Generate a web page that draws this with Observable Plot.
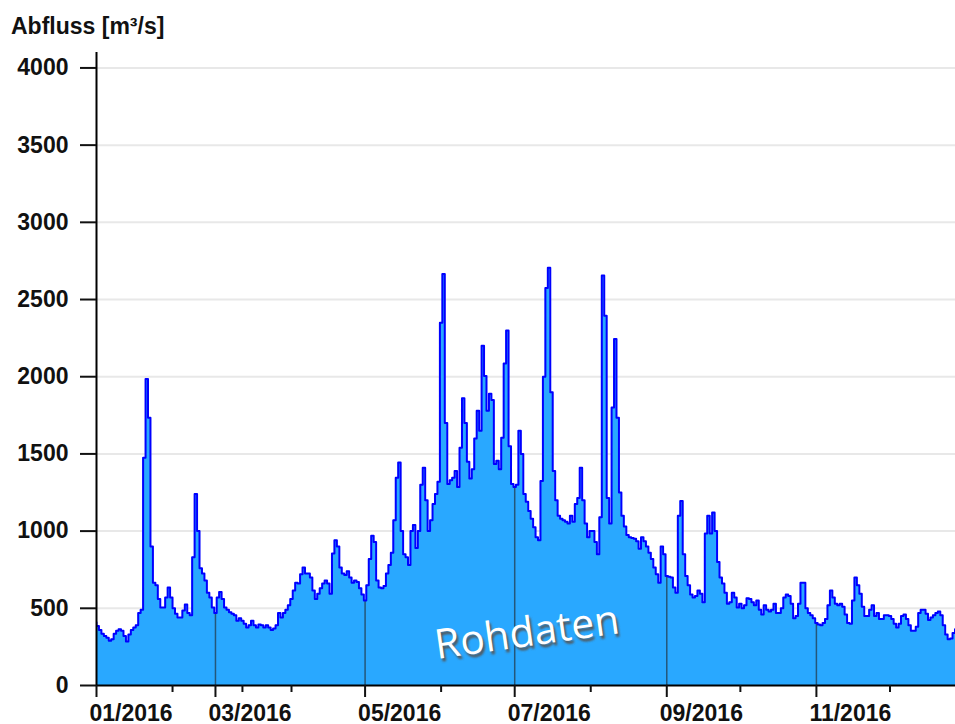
<!DOCTYPE html>
<html><head><meta charset="utf-8">
<script src="https://cdn.jsdelivr.net/npm/d3@7"></script>
<script src="https://cdn.jsdelivr.net/npm/@observablehq/plot@0.6"></script>
<style>
body{margin:0;background:#fff;font-family:"Liberation Sans",Arial,sans-serif;}
#title{height:44px;box-sizing:border-box;padding:15px 0 0 11px;font-size:23px;line-height:23px;font-weight:bold;color:#111;}
</style></head><body>
<div id="title">Abfluss [m³/s]</div>
<div id="chart"></div>
<script>
// daily discharge values starting at seriesStart
const seriesStart = "2016-01-12";
const abfluss = [
410,385,360,335,320,310,290,300,335,355,
365,355,320,285,330,360,375,390,470,490,
1475,1985,1735,900,665,650,560,505,505,570,
635,570,500,465,440,440,485,525,470,455,
830,1240,1000,760,725,680,600,570,505,470,
570,605,560,505,490,475,465,455,420,435,
420,400,375,390,420,390,375,395,390,375,
390,375,360,370,390,470,440,470,490,520,
560,615,665,660,720,765,725,725,700,615,
560,595,630,660,680,660,595,855,940,900,
765,725,715,740,700,665,680,670,630,590,
550,650,820,970,930,680,635,630,645,725,
780,860,1070,1345,1445,1000,850,830,780,1000,
1040,890,1000,1300,1410,1200,1000,1070,1175,1240,
1320,2350,2665,1700,1305,1330,1345,1390,1285,1540,
1860,1700,1450,1340,1400,1600,1780,1650,2200,2005,
1780,1890,1850,1435,1455,1400,1605,2085,2300,1550,
1305,1285,1300,1650,1500,1240,1190,1130,1080,1025,
960,940,1325,2000,2575,2705,1900,1390,1200,1100,
1080,1070,1060,1050,1100,1060,1175,1215,1410,1200,
1050,960,1000,1000,930,850,1090,2655,2395,1215,
1050,1800,2245,1735,1250,1100,1030,975,960,955,
950,935,885,960,935,900,860,820,765,720,
665,900,850,710,705,700,635,600,1100,1195,
850,710,650,590,570,580,615,595,540,985,
1100,985,1120,1000,800,700,660,600,530,540,
600,570,505,530,500,520,565,560,540,520,
550,490,460,520,490,480,490,530,470,470,
500,570,590,580,530,435,450,530,665,665,
500,470,455,435,405,395,390,405,430,520,
615,570,530,520,530,510,460,405,400,550,
700,650,595,510,450,450,490,520,450,470,
430,430,455,455,450,430,400,375,400,450,
460,430,390,355,355,380,470,490,490,465,
425,440,455,470,480,455,390,330,300,305,
340,365
];
const xDomain = ["2016-01-12T12:00Z", "2016-12-27T17:00Z"];
const yDomain = [0, 4100];
const yTicks = [0, 500, 1000, 1500, 2000, 2500, 3000, 3500, 4000];
const majorTicks = ["2016-01-12T12:00Z", "2016-03-01", "2016-05-01", "2016-07-01", "2016-09-01", "2016-11-01"];
const minorTicks = ["2016-02-12T12:00Z", "2016-03-12", "2016-04-01", "2016-06-01", "2016-08-01", "2016-10-01", "2016-12-01"];
const monthMarkers = ["2016-03-01", "2016-05-01", "2016-07-01", "2016-09-01", "2016-11-01"];
const watermark = [{date: "2016-07-06", value: 340, text: "Rohdaten"}];

const start = new Date(seriesStart);
const data = abfluss.map((v, i) => ({date: d3.utcDay.offset(start, i), value: v}));
const byTime = new Map(data.map(d => [+d.date, d.value]));
const markers = monthMarkers.map(s => { const d = new Date(s); return {date: d, value: byTime.get(+d)}; });
const wm = watermark.map(d => ({...d, date: new Date(d.date)}));
const xd = xDomain.map(d => new Date(d));
const major = majorTicks.map(d => new Date(d));
const minor = minorTicks.map(d => new Date(d));

const chart = Plot.plot({
  width: 955, height: 680,
  marginLeft: 96, marginRight: 0, marginTop: 8, marginBottom: 39,
  style: {background: "#fff", fontFamily: "'Liberation Sans', Arial, sans-serif", overflow: "visible", color: "#111"},
  x: {type: "utc", domain: xd, axis: null, label: null},
  y: {domain: yDomain, axis: null, label: null},
  marks: [
    Plot.ruleY(yTicks.filter(d => d > 0), {stroke: "#e8e8e8", strokeWidth: 2}),
    Plot.areaY(data, {x: "date", y: "value", fill: "#29a8ff", curve: "step", clip: true}),
    Plot.ruleX(markers, {x: "date", y1: 0, y2: "value", stroke: "#24577a", strokeWidth: 1.5}),
    Plot.lineY(data, {x: "date", y: "value", stroke: "#0000ff", strokeWidth: 2, curve: "step", clip: true}),
    Plot.ruleY([yDomain[0]], {stroke: "#000", strokeWidth: 2}),
    Plot.ruleX([xd[0]], {y1: yDomain[0], y2: yDomain[1], stroke: "#000", strokeWidth: 2}),
    Plot.axisY({ticks: yTicks, label: null, tickSize: 16, tickPadding: 12, fontSize: 23, fontWeight: "bold", strokeWidth: 2, tickFormat: d => String(d), color: "#111"}),
    // major tick lines
    Plot.axisX({ticks: major, label: null, tickSize: 12, tickFormat: () => "", strokeWidth: 2, color: "#111"}),
    // major tick labels, left-aligned just before the tick
    Plot.axisX({ticks: major, label: null, tickSize: 0, tickPadding: 19, tickFormat: d3.utcFormat("%m/%Y"), textAnchor: "start", dx: -7, fontSize: 23, fontWeight: "bold", color: "#111"}),
    // minor tick lines
    Plot.axisX({ticks: minor, label: null, tickSize: 7, tickFormat: () => "", strokeWidth: 2, color: "#111"}),
    Plot.text(wm, {x: "date", y: "value", text: "text", rotate: -8, fontSize: 41, fill: "#555555", dx: 2, dy: 3, fontFamily: "'Open Sans', sans-serif"}),
    Plot.text(wm, {x: "date", y: "value", text: "text", rotate: -8, fontSize: 41, fill: "#ffffff", fontFamily: "'Open Sans', sans-serif"})
  ]
});
document.getElementById("chart").appendChild(chart);
const svg = d3.select(chart);
svg.append("defs").append("filter").attr("id", "blur").append("feGaussianBlur").attr("stdDeviation", 0.8);
const texts = svg.selectAll('g[aria-label="text"]').nodes();
if (texts.length) d3.select(texts[0]).attr("filter", "url(#blur)");
</script>
</body></html>
